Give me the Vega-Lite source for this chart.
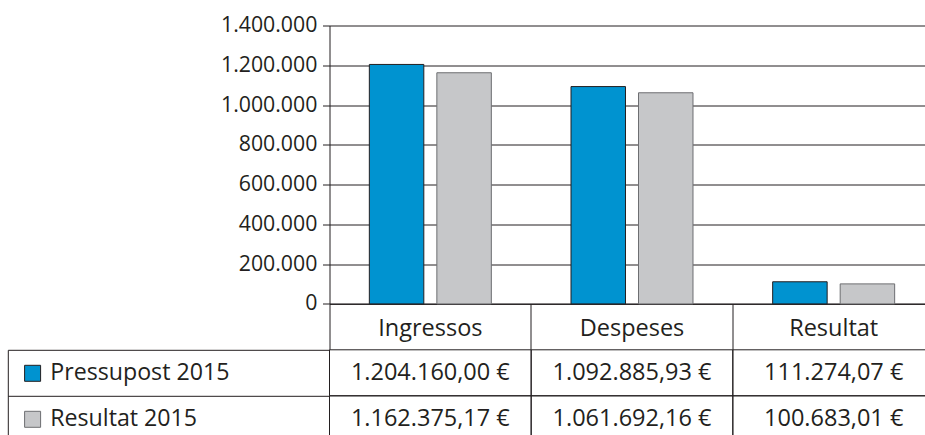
{
  "$schema": "https://vega.github.io/schema/vega-lite/v6.json",
  "padding": {"left": 6.5, "top": 14.5, "right": 0, "bottom": 0},
  "bounds": "flush",
  "spacing": 45.3,
  "background": "white",
  "config": {
    "locale": {"number": {"decimal": ",", "thousands": ".", "grouping": [3], "currency": ["", " €"]}},
    "font": "Open Sans",
    "view": {"stroke": null},
    "axis": {"labelFont": "Open Sans", "labelColor": "#231f20", "domainColor": "#231f20", "tickColor": "#231f20", "gridColor": "#231f20", "domainWidth": 1, "tickWidth": 1, "gridWidth": 1, "gridOpacity": 1, "title": null},
    "legend": {"labelFont": "Open Sans"}
  },
  "data": {
    "values": [
      {"category": "Ingressos", "series": "Pressupost 2015", "value": 1204160.00},
      {"category": "Despeses", "series": "Pressupost 2015", "value": 1092885.93},
      {"category": "Resultat", "series": "Pressupost 2015", "value": 111274.07},
      {"category": "Ingressos", "series": "Resultat 2015", "value": 1162375.17},
      {"category": "Despeses", "series": "Resultat 2015", "value": 1061692.16},
      {"category": "Resultat", "series": "Resultat 2015", "value": 100683.01}
    ]
  },
  "resolve": {"scale": {"color": "shared"}},
  "vconcat": [
    {
      "width": 605,
      "height": 278.4,
      "mark": {"type": "bar", "strokeWidth": 1},
      "encoding": {
        "x": {
          "field": "category", "type": "nominal",
          "sort": ["Ingressos", "Despeses", "Resultat"],
          "scale": {"paddingInner": 0, "paddingOuter": 0},
          "axis": {"labelAngle": 0, "bandPosition": 0, "tickSize": 45.3, "labelPadding": -13.3, "labelBaseline": "alphabetic", "labelAlign": "center", "labelFontSize": 23.5, "grid": false}
        },
        "xOffset": {
          "field": "series", "type": "nominal",
          "sort": ["Pressupost 2015", "Resultat 2015"],
          "scale": {"paddingInner": 0.193, "paddingOuter": 0.59}
        },
        "y": {
          "field": "value", "type": "quantitative",
          "scale": {"domain": [0, 1400000], "nice": false},
          "axis": {"values": [0, 200000, 400000, 600000, 800000, 1000000, 1200000, 1400000], "format": ",.0f", "grid": true, "tickSize": 7, "labelPadding": 5.6, "labelFontSize": 21.3, "labelBaseline": "middle"}
        },
        "color": {
          "field": "series", "type": "nominal",
          "scale": {"domain": ["Pressupost 2015", "Resultat 2015"], "range": ["#0093d0", "#c6c7c9"]},
          "legend": {"orient": "none", "legendX": -308.5, "legendY": 336.2, "title": null, "symbolType": "square", "symbolSize": 256, "symbolStrokeColor": "#231f20", "symbolStrokeWidth": 1, "labelFontSize": 23.2, "labelColor": "#231f20", "labelOffset": 6, "labelLimit": 400, "rowPadding": 22, "padding": 0}
        },
        "stroke": {
          "field": "series", "type": "nominal",
          "scale": {"domain": ["Pressupost 2015", "Resultat 2015"], "range": ["#231f20", "#6d6e71"]},
          "legend": null
        }
      }
    },
    {
      "width": 605,
      "height": 92,
      "encoding": {
        "x": {
          "field": "category", "type": "nominal",
          "sort": ["Ingressos", "Despeses", "Resultat"],
          "scale": {"paddingInner": 0, "paddingOuter": 0},
          "axis": null
        },
        "y": {
          "field": "series", "type": "nominal",
          "sort": ["Pressupost 2015", "Resultat 2015"],
          "scale": {"paddingInner": 0, "paddingOuter": 0},
          "axis": {"offset": 321.7, "bandPosition": 0, "tickSize": -321.7, "labels": false, "domain": true}
        }
      },
      "layer": [
        {"mark": {"type": "rect", "filled": false, "stroke": "#231f20", "strokeWidth": 1}},
        {
          "mark": {"type": "text", "fontSize": 23.5, "color": "#231f20", "baseline": "middle", "font": "Open Sans"},
          "encoding": {"text": {"field": "value", "type": "quantitative", "format": "$,.2f"}}
        }
      ]
    }
  ]
}
